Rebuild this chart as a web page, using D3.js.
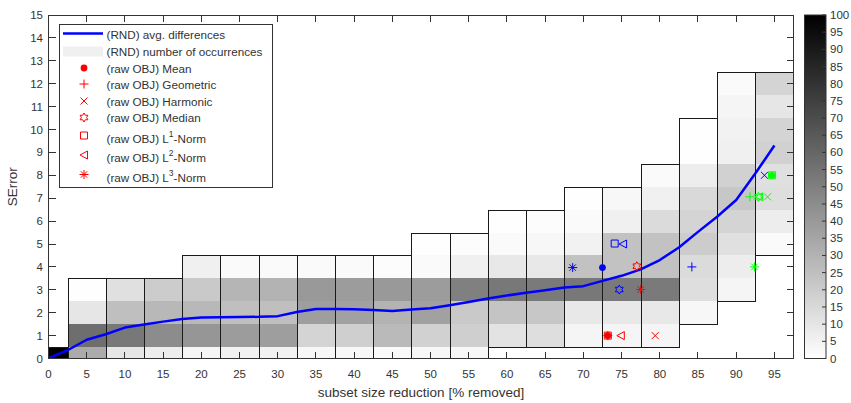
<!DOCTYPE html>
<html>
<head>
<meta charset="utf-8">
<script src="https://cdn.jsdelivr.net/npm/d3@7"></script>
<style>
  body { margin: 0; background: #fff; }
  text { font-family: "Liberation Sans", Arial, sans-serif; fill: #333; }
</style>
</head>
<body>
<svg id="chart" width="851" height="403"></svg>
<script>
// bins of subset size reduction (centre, 5% wide)
const binCenters = [0, 5, 10, 15, 20, 25, 30, 35, 40, 45, 50, 55, 60, 65, 70, 75, 80, 85, 90, 95];

// number of occurrences per bin, rows for SError = 0, 1, 2, ... 12
const occurrences = [
  [100],
  [33, 57, 10, 0.3],
  [10, 53, 25, 12],
  [7, 45, 28, 20],
  [4, 41, 28, 21, 6],
  [5, 39, 25, 29, 2],
  [5, 38, 25, 30, 2],
  [3, 17, 38, 40, 2],
  [3, 19, 37, 39, 2],
  [2, 27, 30, 40, 1],
  [3, 18, 37, 39, 2, 0.5],
  [3, 19, 21, 50, 6, 1],
  [0, 11, 23, 53, 9, 2, 0.5],
  [0, 13, 22, 52, 9, 3, 1],
  [0, 4, 9, 53, 24, 5, 2, 0.5],
  [0, 4, 9, 52, 24, 24, 6, 3],
  [0, 4, 9, 52, 24, 24, 14, 6, 2],
  [0, 0, 3, 13, 14, 20, 17, 15, 7, 0.5, 0.3],
  [0, 0, 0, 4, 7, 12, 17, 22, 18, 6, 5, 4, 2],
  [0, 0, 0, 0, 0, 2, 7, 13, 12, 18, 17, 10, 17]
];

// (RND) avg. differences
const diffX = [0, 2.5, 5, 7.5, 10, 12.5, 15, 17.5, 20, 22.5, 25, 27.5, 30, 32.5, 35, 37.5, 40, 42.5, 45, 47.5,
  50, 52.5, 55, 57.5, 60, 62.5, 65, 67.5, 70, 72.5, 75, 77.5, 80, 82.5, 85, 87.5, 90, 92.5, 95];
const diffY = [0.02, 0.36, 0.82, 1.06, 1.35, 1.48, 1.61, 1.72, 1.79, 1.80, 1.81, 1.82, 1.85, 2.03, 2.16, 2.16, 2.15, 2.12, 2.07, 2.14,
  2.19, 2.33, 2.47, 2.62, 2.75, 2.87, 2.98, 3.10, 3.16, 3.39, 3.61, 3.89, 4.30, 4.85, 5.53, 6.19, 6.92, 8.08, 9.30];

// raw OBJ results: [method, x, y]
const rawRed = [["Geometric", 73.2, 1], ["Mean", 73.2, 1], ["L1", 73.2, 1], ["L2", 74.9, 1], ["Harmonic", 79.4, 1],
  ["Median", 77.0, 4.03], ["L3", 77.5, 3.01]];
const rawBlue = [["L3", 68.6, 3.97], ["Mean", 72.5, 3.97], ["Median", 74.7, 3.01], ["L1", 74.1, 5.02], ["L2", 75.2, 5.0],
  ["Geometric", 84.2, 4.0], ["Harmonic", 93.7, 8.0]];
const rawGreen = [["Mean", 94.7, 8.0], ["L1", 94.7, 8.0], ["Geometric", 91.8, 7.06], ["L2", 93.0, 7.06], ["Median", 92.9, 7.06],
  ["Harmonic", 94.1, 7.06], ["L3", 92.4, 4.0]];

const legendMethods = ["Mean", "Geometric", "Harmonic", "Median", "L1", "L2", "L3"];
const legendNames = ["Mean", "Geometric", "Harmonic", "Median", "L|1|-Norm", "L|2|-Norm", "L|3|-Norm"];

const xTicks = [0, 5, 10, 15, 20, 25, 30, 35, 40, 45, 50, 55, 60, 65, 70, 75, 80, 85, 90, 95];
const yTicks = [0, 1, 2, 3, 4, 5, 6, 7, 8, 9, 10, 11, 12, 13, 14, 15];
const cbarTicks = [0, 5, 10, 15, 20, 25, 30, 35, 40, 45, 50, 55, 60, 65, 70, 75, 80, 85, 90, 95, 100];

const svg = d3.select("#chart");
const plot = { left: 48.5, right: 793.5, top: 15, bottom: 358.5 };

const x = d3.scaleLinear().domain([0, 97.5]).range([plot.left, plot.right]);
const y = d3.scaleLinear().domain([0, 15]).range([plot.bottom, plot.top]);
const gray = d3.scaleLinear().domain([0, 100]).range(["#ffffff", "#000000"]).clamp(true);

svg.append("clipPath").attr("id", "clip")
  .append("rect")
  .attr("x", plot.left).attr("y", plot.top)
  .attr("width", plot.right - plot.left).attr("height", plot.bottom - plot.top);

const area = svg.append("g").attr("clip-path", "url(#clip)");

// cells
const cells = [];
occurrences.forEach((col, i) => col.forEach((v, r) => { if (v > 0) cells.push({ c: binCenters[i], r, v }); }));

area.selectAll("rect.cell").data(cells).enter().append("rect")
  .attr("class", "cell")
  .attr("x", d => x(d.c - 2.5))
  .attr("width", d => x(d.c + 2.5) - x(d.c - 2.5))
  .attr("y", d => y(d.r + 0.5))
  .attr("height", d => y(d.r - 0.5) - y(d.r + 0.5))
  .attr("fill", d => gray(d.v))
  .attr("shape-rendering", "crispEdges");

// outline of every bin over its non-empty rows
const outlines = occurrences.map((col, i) => {
  const rows = col.map((v, r) => v > 0 ? r : -1).filter(r => r >= 0);
  return { c: binCenters[i], lo: d3.min(rows) - 0.5, hi: d3.max(rows) + 0.5 };
});
area.selectAll("rect.outline").data(outlines).enter().append("rect")
  .attr("class", "outline")
  .attr("x", d => Math.round(x(d.c - 2.5)) + 0.5)
  .attr("width", d => Math.round(x(d.c + 2.5)) - Math.round(x(d.c - 2.5)))
  .attr("y", d => Math.round(y(d.hi)) + 0.5)
  .attr("height", d => Math.round(y(Math.max(d.lo, -0.2))) - Math.round(y(d.hi)))
  .attr("fill", "none")
  .attr("stroke", "#1a1a1a")
  .attr("stroke-width", 1);

// avg differences line
const line = d3.line().x(d => x(d[0])).y(d => y(d[1]));
area.append("path")
  .datum(diffX.map((v, i) => [v, diffY[i]]))
  .attr("d", line)
  .attr("fill", "none")
  .attr("stroke", "#0000ff")
  .attr("stroke-width", 2.5)
  .attr("stroke-linejoin", "round");

// marker shapes
function markerPath(type) {
  switch (type) {
    case "Geometric": return "M-4.5,0H4.5M0,-4.5V4.5";
    case "Harmonic": return "M-3.5,-3.5L3.5,3.5M-3.5,3.5L3.5,-3.5";
    case "L1": return "M-3.5,-3.5H3.5V3.5H-3.5Z";
    case "L2": return "M-4,0L3.5,-4L3.5,4Z";
    case "L3": return "M-4.5,0H4.5M0,-4.5V4.5M-3.2,-3.2L3.2,3.2M-3.2,3.2L3.2,-3.2";
    case "Median": {
      const p = d3.range(12).map(k => {
        const a = -Math.PI / 2 + k * Math.PI / 6, rr = k % 2 ? 2.6 : 4.5;
        return [rr * Math.cos(a), rr * Math.sin(a)];
      });
      return "M" + p.map(q => q.join(",")).join("L") + "Z";
    }
  }
  return "";
}

function drawMarker(g, type, cx, cy, color) {
  if (type === "Mean") {
    g.append("circle").attr("cx", cx).attr("cy", cy).attr("r", 3.4).attr("fill", color);
  } else {
    g.append("path").attr("d", markerPath(type))
      .attr("transform", `translate(${cx},${cy})`)
      .attr("fill", "none").attr("stroke", color).attr("stroke-width", 1);
  }
}

const markers = svg.append("g");
[[rawRed, "#ff0000"], [rawBlue, "#0000ff"], [rawGreen, "#00ff00"]].forEach(([set, color]) => {
  set.forEach(([t, px, py]) => drawMarker(markers, t, x(px), y(py), color));
});

// axes (box with ticks inside)
const axisColor = "#333";
const ax = svg.append("g").attr("stroke", axisColor).attr("stroke-width", 1).attr("shape-rendering", "crispEdges");
ax.append("rect")
  .attr("x", plot.left).attr("y", plot.top + 0.5)
  .attr("width", plot.right - plot.left).attr("height", plot.bottom - plot.top - 0.5)
  .attr("fill", "none");
const tl = 7;
xTicks.forEach(t => {
  ax.append("line").attr("x1", x(t)).attr("x2", x(t)).attr("y1", plot.bottom).attr("y2", plot.bottom - tl);
  ax.append("line").attr("x1", x(t)).attr("x2", x(t)).attr("y1", plot.top).attr("y2", plot.top + tl);
});
yTicks.forEach(t => {
  ax.append("line").attr("x1", plot.left).attr("x2", plot.left + tl).attr("y1", y(t)).attr("y2", y(t));
  ax.append("line").attr("x1", plot.right).attr("x2", plot.right - tl).attr("y1", y(t)).attr("y2", y(t));
});

svg.append("g").selectAll("text").data(xTicks).enter().append("text")
  .attr("x", d => x(d)).attr("y", 378)
  .attr("text-anchor", "middle").attr("font-size", 11.5)
  .text(d => d);
svg.append("g").selectAll("text").data(yTicks).enter().append("text")
  .attr("x", 43).attr("y", d => y(d) + 4)
  .attr("text-anchor", "end").attr("font-size", 11.5)
  .text(d => d);

svg.append("text")
  .attr("x", (plot.left + plot.right) / 2).attr("y", 397)
  .attr("text-anchor", "middle").attr("font-size", 13.5)
  .text("subset size reduction [% removed]");
svg.append("text")
  .attr("transform", `translate(17,${(plot.top + plot.bottom) / 2}) rotate(-90)`)
  .attr("text-anchor", "middle").attr("font-size", 13.5)
  .text("SError");

// colorbar
const cb = { left: 804.5, right: 826, top: 15, bottom: 358.5 };
const cy = d3.scaleLinear().domain([0, 100]).range([cb.bottom, cb.top]);
const grad = svg.append("defs").append("linearGradient").attr("id", "cbgrad")
  .attr("x1", 0).attr("y1", 1).attr("x2", 0).attr("y2", 0);
grad.append("stop").attr("offset", "0%").attr("stop-color", gray(0));
grad.append("stop").attr("offset", "100%").attr("stop-color", gray(100));
svg.append("rect")
  .attr("x", cb.left).attr("y", cb.top)
  .attr("width", cb.right - cb.left).attr("height", cb.bottom - cb.top)
  .attr("fill", "url(#cbgrad)").attr("stroke", axisColor).attr("stroke-width", 1);
cbarTicks.forEach(t => {
  svg.append("line").attr("x1", cb.right - 4).attr("x2", cb.right).attr("y1", cy(t)).attr("y2", cy(t))
    .attr("stroke", axisColor);
});
svg.append("g").selectAll("text").data(cbarTicks).enter().append("text")
  .attr("x", 830).attr("y", d => cy(d) + 4)
  .attr("font-size", 11.5)
  .text(d => d);

// legend
const lg = svg.append("g");
lg.append("rect").attr("x", 59.5).attr("y", 24.5).attr("width", 213).attr("height", 163)
  .attr("fill", "#fff").attr("stroke", axisColor).attr("stroke-width", 1);
lg.append("line").attr("x1", 63).attr("x2", 103).attr("y1", 33.5).attr("y2", 33.5)
  .attr("stroke", "#0000ff").attr("stroke-width", 2.5);
lg.append("text").attr("x", 106.5).attr("y", 39).attr("font-size", 11.7).text("(RND) avg. differences");
lg.append("rect").attr("x", 63).attr("y", 46.5).attr("width", 40).attr("height", 10).attr("fill", "#f0f0f0");
lg.append("text").attr("x", 106.5).attr("y", 56).attr("font-size", 11.7).text("(RND) number of occurrences");

const legendY = [68, 84, 101, 117.5, 135.5, 155, 174.5];
legendMethods.forEach((m, i) => {
  drawMarker(lg, m, 84, legendY[i], "#ff0000");
  const name = legendNames[i];
  const sup = name.indexOf("|") >= 0;
  const t = lg.append("text").attr("x", 106.5).attr("y", legendY[i] + (sup ? 7 : 4.5)).attr("font-size", 11.7);
  if (!sup) {
    t.text("(raw OBJ) " + name);
  } else {
    const parts = name.split("|");
    t.append("tspan").text("(raw OBJ) " + parts[0]);
    t.append("tspan").attr("dy", -6).attr("font-size", 8.5).text(parts[1]);
    t.append("tspan").attr("dy", 6).text(parts[2]);
  }
});
</script>
</body>
</html>
